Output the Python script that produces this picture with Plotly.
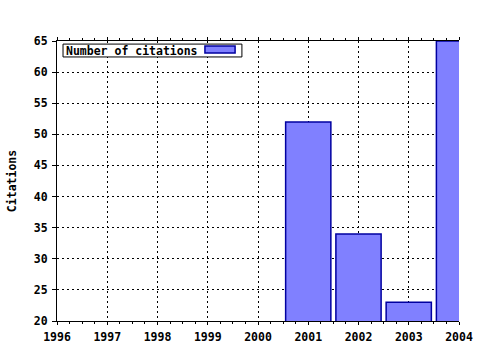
import plotly.graph_objects as go

years = [1996, 1997, 1998, 1999, 2000, 2001, 2002, 2003, 2004]
citations = [0, 0, 0, 0, 0, 52, 34, 23, 65]
y_ticks = [20, 25, 30, 35, 40, 45, 50, 55, 60, 65]
series_name = "Number of citations"

FONT = dict(family="DejaVu Sans Mono", size=11.5, color="black", weight="bold")
BAR_FILL = "#8080ff"
BAR_LINE = "#0000a0"
GRID_DASH = "2px,3px"

fig = go.Figure()
fig.add_trace(go.Bar(
    x=years, y=citations, width=0.9, name=series_name,
    marker=dict(color=BAR_FILL, line=dict(color=BAR_LINE, width=1.5)),
    showlegend=False,
))

fig.update_layout(
    width=480, height=350,
    margin=dict(l=57, r=21, t=41, b=29, autoexpand=False),
    paper_bgcolor="white", plot_bgcolor="white",
    font=FONT,
    xaxis=dict(
        range=[years[0], years[-1]], tickmode="array", tickvals=years,
        ticktext=[str(y) for y in years], tickfont=FONT, automargin=False,
        showline=True, linecolor="black", linewidth=1, mirror="allticks",
        ticks="outside", ticklen=3, tickcolor="black",
        showgrid=True, gridcolor="black", griddash=GRID_DASH, gridwidth=1,
        zeroline=False,
        minor=dict(dtick=0.25, tick0=1996, ticks="outside", ticklen=2, tickcolor="black", showgrid=False),
        ticklabelstandoff=2,
    ),
    yaxis=dict(
        range=[20, 65], tickmode="array", tickvals=y_ticks, tickfont=FONT,
        automargin=False,
        showline=True, linecolor="black", linewidth=1,
        ticks="outside", ticklen=4, tickcolor="black",
        showgrid=True, gridcolor="black", griddash=GRID_DASH, gridwidth=1,
        zeroline=False,
        title=dict(text="Citations", font=FONT, standoff=14),
        ticklabelstandoff=2,
    ),
)

# legend box (gnuplot style: label then swatch)
fig.add_shape(type="rect", xref="paper", yref="paper",
              x0=0.015, x1=0.46, y0=0.943, y1=0.989,
              line=dict(color="black", width=1), fillcolor="white", layer="above")
fig.add_annotation(xref="paper", yref="paper", x=0.017, y=0.966,
                   xanchor="left", yanchor="middle", text=series_name,
                   showarrow=False, font=FONT)
fig.add_shape(type="rect", xref="paper", yref="paper",
              x0=0.368, x1=0.443, y0=0.957, y1=0.982,
              line=dict(color=BAR_LINE, width=1.5), fillcolor=BAR_FILL, layer="above")

fig.write_html("out.html")
